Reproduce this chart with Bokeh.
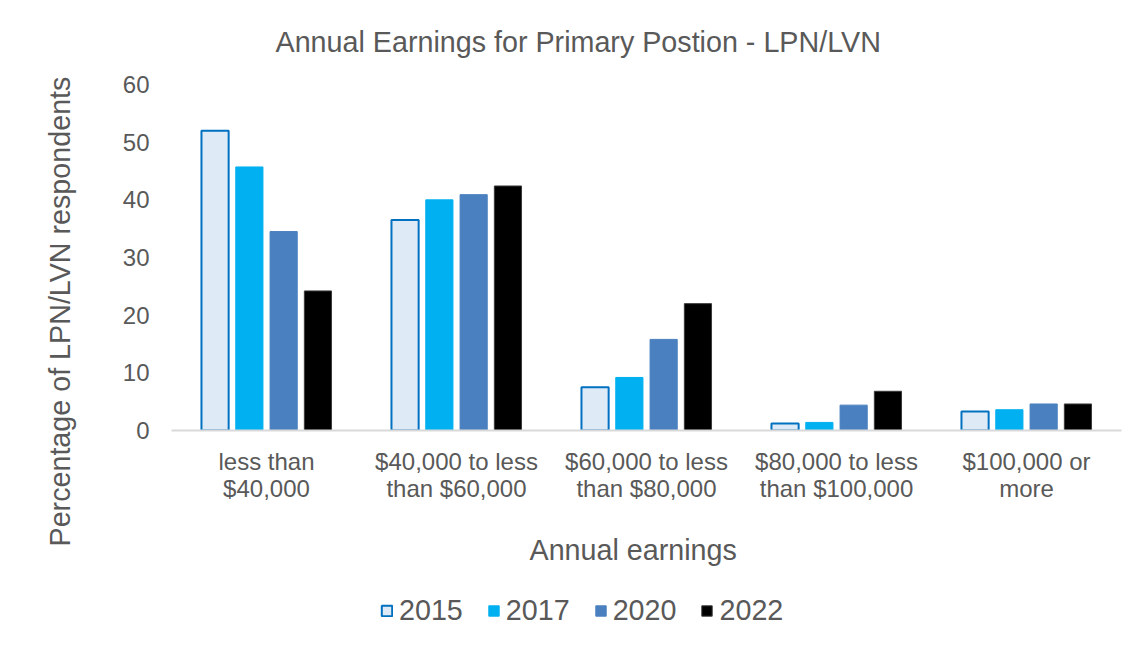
from bokeh.plotting import figure
from bokeh.layouts import column
from bokeh.models import ColumnDataSource, FactorRange, Range1d, Title, Legend, LegendItem
from bokeh.transform import dodge
from bokeh.embed import file_html
from bokeh.resources import INLINE

categories = ["less than\n$40,000", "$40,000 to less\nthan $60,000", "$60,000 to less\nthan $80,000",
              "$80,000 to less\nthan $100,000", "$100,000 or\nmore"]
years = ["2015", "2017", "2020", "2022"]
v2015 = [52.0, 36.5, 7.5, 1.2, 3.3]
v2017 = [45.7, 40.0, 9.2, 1.4, 3.6]
v2020 = [34.5, 40.9, 15.8, 4.4, 4.6]
v2022 = [24.2, 42.4, 22.0, 6.8, 4.6]
y_ticks = [0, 10, 20, 30, 40, 50, 60]

title_text = "Annual Earnings for Primary Postion - LPN/LVN"
x_title = "Annual earnings"
y_title = "Percentage of LPN/LVN respondents"

FONT = "Liberation Sans"
TXT = "#595959"
BIG = "28.7px"

styles = [
    ("y2015", "#DEEBF7", "#0070C0", 2),
    ("y2017", "#00B0F0", "#00B0F0", 1),
    ("y2020", "#4A80BF", "#4A80BF", 1),
    ("y2022", "#000000", "#3a3a3a", 1),
]

source = ColumnDataSource(dict(cat=categories, y2015=v2015, y2017=v2017, y2020=v2020, y2022=v2022))

p = figure(x_range=FactorRange(*categories), y_range=Range1d(0, 60),
           width=1126, height=594, output_backend="svg", toolbar_location=None,
           min_border_left=171, min_border_right=5, min_border_top=84, min_border_bottom=164)
p.background_fill_color = "white"
p.border_fill_color = "white"
p.outline_line_color = None
p.xgrid.grid_line_color = None
p.ygrid.grid_line_color = None

step = 0.1805
offsets = [-1.5 * step, -0.5 * step, 0.5 * step, 1.5 * step]
for (col, fill, line, lw), off in zip(styles, offsets):
    p.vbar(x=dodge("cat", off, range=p.x_range), top=col, width=0.143, source=source,
           fill_color=fill, line_color=line, line_width=lw)

# axes
p.yaxis.ticker = y_ticks
p.yaxis.axis_line_color = None
p.yaxis.major_tick_line_color = None
p.yaxis.major_tick_out = 0
p.yaxis.minor_tick_line_color = None
p.yaxis.minor_tick_out = 0
p.yaxis.major_label_standoff = 22
p.yaxis.major_label_text_font = FONT
p.yaxis.major_label_text_font_size = "24px"
p.yaxis.major_label_text_color = TXT

p.xaxis.axis_line_color = "#d9d9d9"
p.xaxis.axis_line_width = 2
p.xaxis.major_tick_line_color = None
p.xaxis.major_tick_out = 0
p.xaxis.minor_tick_line_color = None
p.xaxis.minor_tick_out = 0
p.xaxis.major_label_standoff = 17
p.xaxis.major_label_text_font = FONT
p.xaxis.major_label_text_font_size = "24px"
p.xaxis.major_label_text_color = TXT
p.xaxis.major_label_text_line_height = 1.0

# titles
p.add_layout(Title(text=title_text, align="left", offset=104, standoff=50, vertical_align="top",
                   text_font=FONT, text_font_size=BIG, text_color=TXT, text_font_style="normal"), "above")
p.add_layout(Title(text=y_title, align="left", offset=-116, standoff=83, vertical_align="top",
                   text_font=FONT, text_font_size=BIG, text_color=TXT, text_font_style="normal"), "left")
p.add_layout(Title(text=x_title, align="left", offset=358, standoff=55, vertical_align="bottom",
                   text_font=FONT, text_font_size=BIG, text_color=TXT, text_font_style="normal"), "below")

# legend strip (invisible proxy bars carry the legend glyph styles)
lf = figure(width=1126, height=43, x_range=FactorRange(*categories), y_range=Range1d(0, 60),
            output_backend="svg", toolbar_location=None, min_border=0,
            x_axis_type=None, y_axis_type=None)
lf.outline_line_color = None
lf.background_fill_color = "white"
lf.border_fill_color = "white"
lf.grid.visible = False
items = []
for yr, (col, fill, line, lw), off in zip(years, styles, offsets):
    r = lf.vbar(x=dodge("cat", off, range=lf.x_range), top=col, width=0.143, source=source,
                fill_color=fill, line_color=line, line_width=lw, visible=False)
    items.append(LegendItem(label=yr, renderers=[r]))
legend = Legend(items=items, orientation="horizontal", location=(209, 10),
                glyph_width=13, glyph_height=13, label_standoff=6, spacing=24,
                padding=0, margin=0, border_line_color=None, background_fill_alpha=0,
                label_text_font=FONT, label_text_font_size=BIG, label_text_color=TXT)
lf.add_layout(legend, "center")

layout = column(p, lf, spacing=0)
open("out.html", "w").write(file_html(layout, INLINE))
